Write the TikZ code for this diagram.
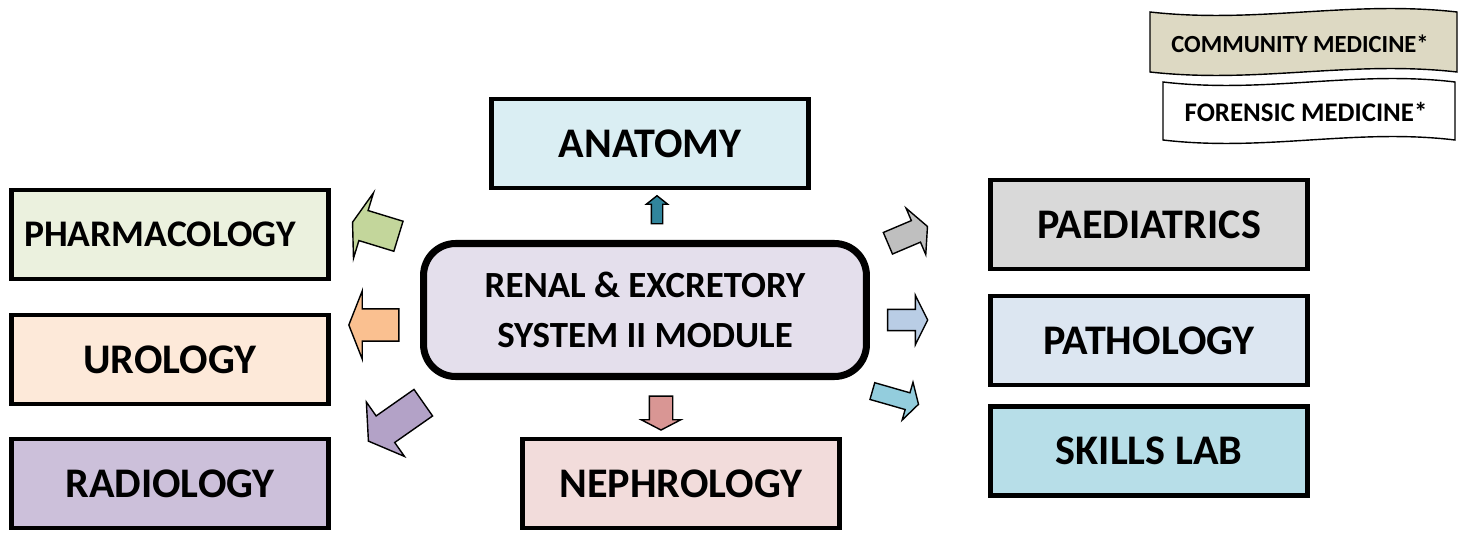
\documentclass[tikz,border=0pt]{standalone}
\usepackage{fontspec}
\setmainfont{Carlito}
\usetikzlibrary{shapes.arrows}

\definecolor{anatomyfill}{HTML}{DAEEF3}
\definecolor{pharmafill}{HTML}{EBF1DE}
\definecolor{urofill}{HTML}{FDE9D9}
\definecolor{radiofill}{HTML}{CCC0DA}
\definecolor{nephrofill}{HTML}{F2DCDB}
\definecolor{paedsfill}{HTML}{D9D9D9}
\definecolor{pathofill}{HTML}{DCE6F1}
\definecolor{skillsfill}{HTML}{B7DEE8}
\definecolor{modulefill}{HTML}{E4DFEC}
\definecolor{communityfill}{HTML}{DDD9C3}
\definecolor{uparrowfill}{HTML}{31859C}
\definecolor{downarrowfill}{HTML}{D99694}
\definecolor{greenarrowfill}{HTML}{C3D69B}
\definecolor{orangearrowfill}{HTML}{FAC090}
\definecolor{purplearrowfill}{HTML}{B3A2C7}
\definecolor{grayarrowfill}{HTML}{BFBFBF}
\definecolor{bluearrowfill}{HTML}{B9CDE5}
\definecolor{tealarrowfill}{HTML}{93CDDD}

\begin{document}
\begin{tikzpicture}[x=0.02cm, y=-0.02cm,
    subject/.style={draw, rectangle, line width=2.8pt, minimum width=6.35cm, minimum height=1.78cm, font=\fontsize{24}{28}\selectfont\bfseries},
    blockarrow/.style={draw, single arrow, line width=0.8pt, single arrow head indent=0pt, inner xsep=0pt, minimum width=0pt},
    bannertext/.style={font=\fontsize{14}{16}\selectfont\bfseries}]
        \useasboundingbox (0,0) rectangle (1459,533);

        % Nodes
        \node[draw, rectangle, rounded corners=0.64cm, line width=4pt, fill=modulefill, minimum width=8.86cm, minimum height=2.66cm, align=center, font=\fontsize{21}{28.4}\selectfont\bfseries] (module) at (645,310) {RENAL \& EXCRETORY\\SYSTEM II MODULE};
        \node[subject, fill=anatomyfill] (anatomy) at (650,143.5) {ANATOMY};
        \node[subject, fill=pharmafill, font=\fontsize{21.4}{26}\selectfont\bfseries] (pharmacology) at (170,234.5) {PHARMACOLOGY\kern0.4cm};
        \node[subject, fill=urofill] (urology) at (170,359.5) {UROLOGY};
        \node[subject, fill=radiofill] (radiology) at (170,483.5) {RADIOLOGY};
        \node[subject, fill=nephrofill] (nephrology) at (681,483.5) {NEPHROLOGY};
        \node[subject, fill=paedsfill] (paediatrics) at (1149,224.5) {PAEDIATRICS};
        \node[subject, fill=pathofill] (pathology) at (1149,340.5) {PATHOLOGY};
        \node[subject, fill=skillsfill] (skillslab) at (1149,451) {SKILLS LAB};

        % Banners
        \filldraw[fill=communityfill, line width=0.8pt] (1150,12) .. controls (1257,24) and (1350,0) .. (1457,12) -- (1457,72) .. controls (1350,60) and (1257,84) .. (1150,72) -- cycle;
        \node[bannertext] (community) at (1300,44) {COMMUNITY MEDICINE*};
        \filldraw[fill=white, line width=0.8pt] (1163,82) .. controls (1265,94) and (1355,70) .. (1455,82) -- (1455,140) .. controls (1355,128) and (1265,152) .. (1163,140) -- cycle;
        \node[bannertext, font=\fontsize{15.3}{17}\selectfont\bfseries] (forensic) at (1306,112) {FORENSIC MEDICINE*};

        % Arrows
        \node[blockarrow, fill=uparrowfill, rotate=90, minimum height=0.56cm, inner ysep=0.1cm, single arrow head extend=0.1cm, single arrow tip angle=103] (toanatomy) at (657,212) {};
        \node[blockarrow, fill=downarrowfill, rotate=-90, minimum height=0.68cm, inner ysep=0.22cm, single arrow head extend=0.16cm, single arrow tip angle=125] (tonephrology) at (661,410) {};
        \node[blockarrow, fill=greenarrowfill, rotate=163, minimum height=0.96cm, inner ysep=0.3cm, single arrow head extend=0.37cm, single arrow tip angle=143] (topharmacology) at (378,230) {};
        \node[blockarrow, fill=orangearrowfill, rotate=180, minimum height=1cm, inner ysep=0.31cm, single arrow head extend=0.36cm, single arrow tip angle=137] (tourology) at (377,325) {};
        \node[blockarrow, fill=purplearrowfill, rotate=215, minimum height=1.34cm, inner ysep=0.31cm, single arrow head extend=0.34cm, single arrow tip angle=116] (toradiology) at (400,419) {};
        \node[blockarrow, fill=grayarrowfill, rotate=23, minimum height=0.86cm, inner ysep=0.22cm, single arrow head extend=0.27cm, single arrow tip angle=127] (topaediatrics) at (905,236) {};
        \node[blockarrow, fill=bluearrowfill, rotate=0, minimum height=0.8cm, inner ysep=0.2cm, single arrow head extend=0.28cm, single arrow tip angle=127] (topathology) at (905,320) {};
        \node[blockarrow, fill=tealarrowfill, rotate=-16, minimum height=0.96cm, inner ysep=0.16cm, single arrow head extend=0.22cm, single arrow tip angle=120] (toskillslab) at (893,397) {};
    \end{tikzpicture}
\end{document}
